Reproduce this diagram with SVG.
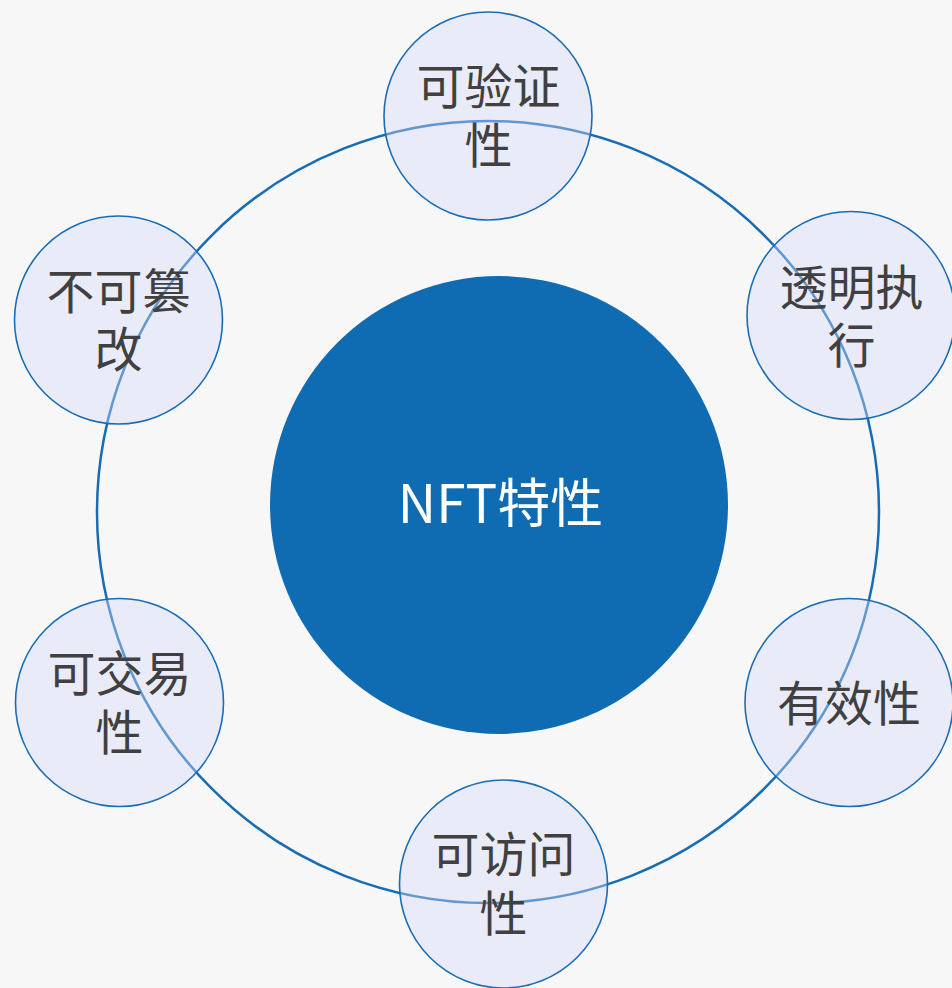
<svg xmlns="http://www.w3.org/2000/svg" width="952" height="988" viewBox="0 0 952 988">
<style>
.ring{fill:none;stroke:#176db5;stroke-width:2.5}
.sat{fill:#d4d9fa;fill-opacity:0.4;stroke:#1a6db5;stroke-width:1.6}
.lbl{font-family:"Noto Sans CJK SC","Noto Sans",sans-serif;font-size:48px;fill:#404040;text-anchor:middle}
.core{fill:#106cb2}
.coretxt{font-family:"Noto Sans CJK SC","Noto Sans",sans-serif;font-size:53px;fill:#ffffff;text-anchor:middle}
</style>
<rect x="0" y="0" width="952" height="988" fill="#f7f7f7"/>
<g id="connectors">
<circle class="ring" cx="488" cy="512" r="391"/>
</g>
<g id="center">
<circle class="core" cx="499" cy="505" r="229"/>
<text class="coretxt" x="500.5" y="523">NFT特性</text>
</g>
<g id="n-verify">
<circle class="sat" cx="488" cy="116" r="104"/>
<text class="lbl"><tspan x="488.5" y="104">可验证</tspan><tspan x="488.5" y="163">性</tspan></text>
</g>
<g id="n-transparent">
<circle class="sat" cx="851" cy="315.5" r="104"/>
<text class="lbl"><tspan x="851.5" y="305">透明执</tspan><tspan x="851.5" y="363">行</tspan></text>
</g>
<g id="n-valid">
<circle class="sat" cx="849" cy="702.5" r="104"/>
<text class="lbl" x="849" y="721">有效性</text>
</g>
<g id="n-access">
<circle class="sat" cx="503.5" cy="884" r="104"/>
<text class="lbl"><tspan x="503.5" y="872">可访问</tspan><tspan x="503.5" y="931">性</tspan></text>
</g>
<g id="n-trade">
<circle class="sat" cx="119.5" cy="702.5" r="104"/>
<text class="lbl"><tspan x="119.5" y="691">可交易</tspan><tspan x="119.5" y="750">性</tspan></text>
</g>
<g id="n-immutable">
<circle class="sat" cx="118.5" cy="320" r="104"/>
<text class="lbl"><tspan x="118.5" y="309">不可篡</tspan><tspan x="118.5" y="367">改</tspan></text>
</g>
</svg>
